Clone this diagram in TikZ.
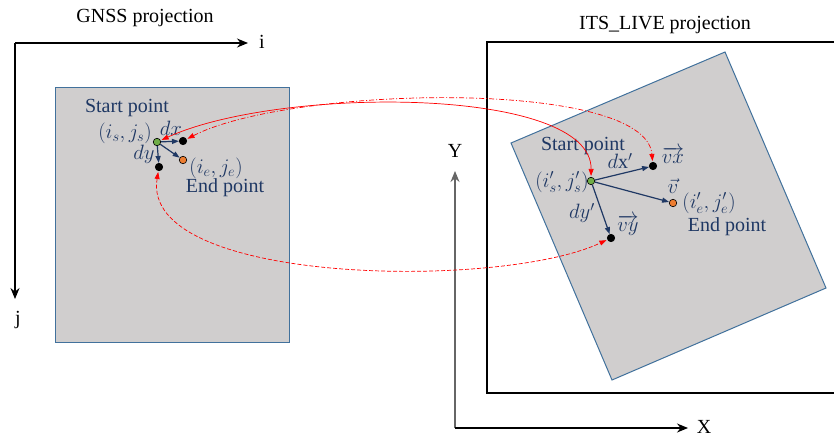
\documentclass[tikz,border=0pt]{standalone}
\usepackage{fontspec}
\setmainfont{Liberation Serif}
\usepackage{amsmath}
\usetikzlibrary{arrows.meta}

\definecolor{boxgray}{HTML}{D0CECE}
\definecolor{boxblue}{HTML}{41719C}
\definecolor{navy}{HTML}{1F3864}
\definecolor{ptgreen}{HTML}{70AD47}
\definecolor{ptorange}{HTML}{ED7D31}

\tikzset{
    ptdot/.style={circle, draw=black, line width=0.6pt, inner sep=0pt, minimum size=7.5pt},
    lbl/.style={text=navy, font=\fontsize{20}{24}\selectfont, inner sep=0pt},
    ttl/.style={text=black, font=\fontsize{20}{24}\selectfont, inner sep=0pt},
    vecarrow/.style={-{Triangle[length=7pt,width=5pt]}, draw=navy, line width=1.2pt},
    link/.style={{Triangle[length=7pt,width=5pt]}-{Triangle[length=7pt,width=5pt]}, draw=red, line width=0.7pt, shorten <=1pt, shorten >=1pt},
    axis/.style={-{Stealth[length=11pt,width=9pt]}, line width=1.3pt},
}

\begin{document}
\begin{tikzpicture}[x=1pt, y=-1pt]
\useasboundingbox (0,0) rectangle (834,437);

% GNSS projection
\node[ttl] (gnsstitle) at (145,18) {GNSS projection};
\coordinate (o1) at (15,43);
\coordinate (iend) at (248,43);
\coordinate (jend) at (15,299);
\draw[axis] (o1) -- (iend);
\draw[axis] (o1) -- (jend);
\node[ttl] (ilab) at (262,42) {i};
\node[ttl] (jlab) at (18,320) {j};
\filldraw[fill=boxgray, draw=boxblue, line width=1pt] (55,87) rectangle (289,342);

% ITS_LIVE projection
\node[ttl] (itstitle) at (665,25) {ITS\_LIVE projection};
\draw[line width=1.2pt] (840,42) -- (487,42) -- (487,393) -- (840,393);
\coordinate (o2) at (455,428);
\coordinate (yend) at (455,171);
\coordinate (xend) at (688,428);
\draw[axis, draw=black!60] (o2) -- (yend);
\draw[axis] (o2) -- (xend);
\node[ttl] (ylab) at (455,151) {Y};
\node[ttl] (xlab) at (704,427) {X};
\filldraw[fill=boxgray, draw=boxblue, line width=1pt]
    (725,52) -- (826,288) -- (612,380) -- (511,143) -- cycle;

% Puntos
\node[ptdot, fill=ptgreen]  (s1)  at (157,142) {};
\node[ptdot, fill=black]    (dx1) at (183,141) {};
\node[ptdot, fill=black]    (dy1) at (159,167) {};
\node[ptdot, fill=ptorange] (e1)  at (183,160) {};
\node[ptdot, fill=ptgreen]  (s2)  at (591,181) {};
\node[ptdot, fill=black]    (vx)  at (653,166) {};
\node[ptdot, fill=black]    (vy)  at (611,238) {};
\node[ptdot, fill=ptorange] (e2)  at (673,203) {};

% Vectores
\foreach \a/\b in {s1/dx1, s1/dy1, s1/e1, s2/vx, s2/vy, s2/e2} {
    \draw[vecarrow] (\a) -- (\b);
}

% Etiquetas
\node[lbl] (start1) at (127,108) {Start point};
\node[lbl] (ij1)    at (125,133) {$(i_s,j_s)$};
\node[lbl] (dxlab)  at (171,128) {$dx$};
\node[lbl] (dylab)  at (144,154) {$dy$};
\node[lbl] (ije1)   at (216,168) {$(i_e,j_e)$};
\node[lbl] (end1)   at (225,188) {End point};

\node[lbl] (start2) at (583,146) {Start point};
\node[lbl] (ij2)    at (562,182) {$(i'_s,j'_s)$};
\node[lbl] (dx2lab) at (620,161) {$d\mathrm{x}'$};
\node[lbl] (vxlab)  at (673,155) {$\overrightarrow{vx}$};
\node[lbl] (vlab)   at (673,186) {$\vec{v}$};
\node[lbl] (ije2)   at (709,203) {$(i'_e,j'_e)$};
\node[lbl] (end2)   at (727,227) {End point};
\node[lbl] (dy2lab) at (582,213) {$dy'$};
\node[lbl] (vylab)  at (628,225) {$\overrightarrow{vy}$};

% Correspondencias
\draw[link] (s1) .. controls (280,86) and (592,86) .. (s2);
\draw[link, dash pattern=on 5pt off 2pt on 1pt off 2pt] (dx1) .. controls (290,86) and (645,78) .. (vx);
\draw[link, dash pattern=on 4pt off 2pt] (dy1) .. controls (140,285) and (500,290) .. (vy);

\end{tikzpicture}
\end{document}
